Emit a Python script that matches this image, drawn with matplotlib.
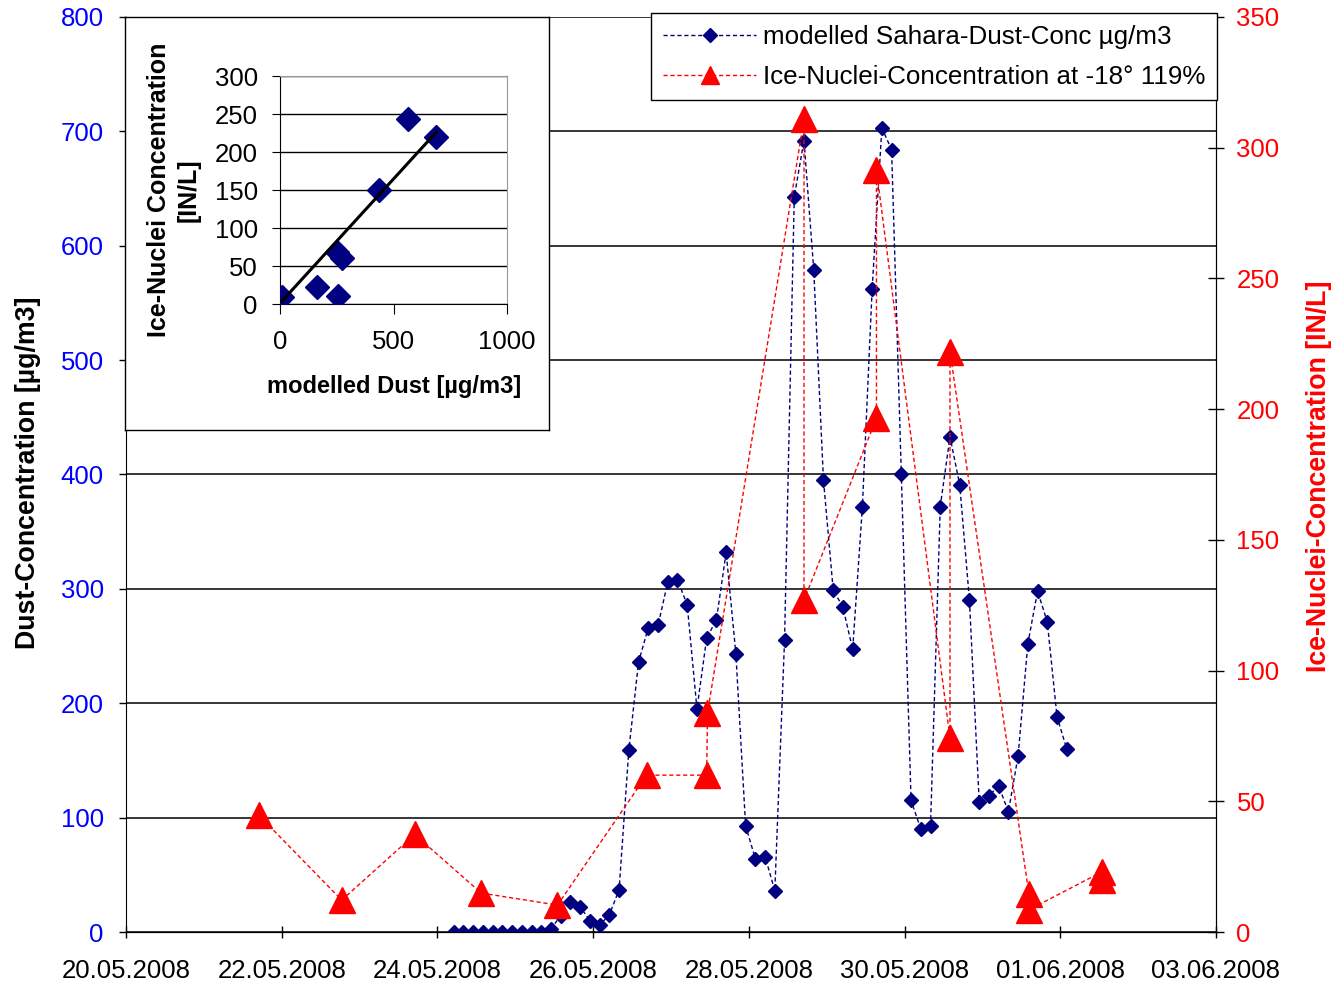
import pandas as pd
import matplotlib
matplotlib.use("Agg")
import matplotlib.pyplot as plt
import matplotlib.dates as mdates
from matplotlib.lines import Line2D

plt.rcParams["font.family"] = ["Liberation Sans", "DejaVu Sans"]

W, H = 1332, 984

# modelled dust, 3-hourly from 24.05.2008 05:00
dust_start = "2008-05-24 05:00"
dust = [0, 0, 0, 0, 0, 0, 0, 0, 0, 0,
        3, 14, 26, 22, 10, 6, 15, 37,
        159, 236, 266, 268, 306, 308, 286, 195, 257, 273,
        332, 243, 93, 64, 66, 36, 255, 643, 692, 579,
        395, 299, 284, 247, 372, 562, 703, 684, 400, 115,
        90, 93, 372, 433, 391, 290, 114, 119, 128, 105,
        154, 252, 298, 271, 188, 160]

# ice nuclei measurements (in drawing order)
ice_times = ["2008-05-21 17:00", "2008-05-22 18:30", "2008-05-23 17:00",
             "2008-05-24 13:30", "2008-05-25 13:00", "2008-05-26 16:30",
             "2008-05-27 11:00", "2008-05-27 11:15", "2008-05-28 17:00",
             "2008-05-28 17:00", "2008-05-29 15:20", "2008-05-29 15:20",
             "2008-05-30 14:00", "2008-05-30 14:00", "2008-05-31 14:20",
             "2008-05-31 14:20", "2008-06-01 12:50", "2008-06-01 12:50"]
ice = [44.6, 12.2, 37.3, 14.9, 10.3, 60, 60, 83.8, 311, 127,
       196.5, 291.5, 74.2, 222, 14.5, 8.5, 23, 20]

# inset scatter
inset_dust = [7, 161, 257, 249, 271, 435, 562, 689]
inset_ice = [9.6, 23, 10, 69, 60, 150, 244, 220]
trend_slope = 0.327
trend_icpt = 1.0

NAVY = "#000080"
RED = "#FF0000"
BLUE = "#0000FF"
FS = 18.5


def box(x0, y0, x1, y1):
    return [x0 / W, 1 - y1 / H, (x1 - x0) / W, (y1 - y0) / H]


fig = plt.figure(figsize=(W / 100, H / 100), dpi=100)
ax = fig.add_axes(box(126, 17, 1216, 932))
ax2 = ax.twinx()

t_dust = pd.date_range(dust_start, periods=len(dust), freq="3h")
t_ice = pd.to_datetime(ice_times)

ax.plot(t_dust, dust, color=NAVY, lw=1, dashes=(3, 2), marker="D", ms=7,
        mfc=NAVY, mec=NAVY)
ax2.plot(t_ice, ice, color=RED, lw=1, dashes=(3, 2), marker="^", ms=19,
         mfc=RED, mec=RED)

ax.set_ylim(0, 800)
ax.set_yticks(range(0, 801, 100))
ax2.set_ylim(0, 350)
ax2.set_yticks(range(0, 351, 50))
ax.set_xlim(pd.Timestamp("2008-05-20"), pd.Timestamp("2008-06-03"))
ax.set_xticks(pd.date_range("2008-05-20", "2008-06-03", freq="2D"))
ax.xaxis.set_major_formatter(mdates.DateFormatter("%d.%m.%Y"))

ax.grid(axis="y", color="black", lw=1.1)
ax.set_axisbelow(True)
ax.spines["top"].set_visible(False)
ax2.spines["top"].set_visible(False)
ax2.spines["left"].set_visible(False)

ax.tick_params(axis="x", direction="inout", length=9, width=1, pad=15,
               labelsize=FS)
ax.tick_params(axis="y", direction="out", length=5, width=1, pad=11,
               labelsize=FS, labelcolor=BLUE)
ax2.tick_params(axis="y", direction="inout", length=11.5, width=1, pad=9,
                labelsize=FS, labelcolor=RED)

fig.text(28 / W, 1 - 473 / H, "Dust-Concentration [µg/m3]", rotation=90,
         ha="center", va="center", fontsize=19.3, fontweight="bold")
fig.text(1319 / W, 1 - 476 / H, "Ice-Nuclei-Concentration [IN/L]", rotation=90,
         ha="center", va="center", fontsize=19.3, fontweight="bold", color=RED)

handles = [
    Line2D([], [], color=NAVY, lw=1, dashes=(3, 2), marker="D", ms=7,
           mfc=NAVY, mec=NAVY),
    Line2D([], [], color=RED, lw=1, dashes=(3, 2), marker="^", ms=13,
           mfc=RED, mec=RED),
]
leg = fig.legend(handles, ["modelled Sahara-Dust-Conc µg/m3",
                           "Ice-Nuclei-Concentration at -18° 119%"],
                 loc="upper right", bbox_to_anchor=(1217 / W, 1 - 13 / H),
                 fontsize=18.7, frameon=True, fancybox=False, framealpha=1,
                 edgecolor="black", borderpad=0.45, handlelength=3.6,
                 handletextpad=0.25, labelspacing=0.62, borderaxespad=0)
leg.get_frame().set_linewidth(1)

# inset
bg = fig.add_axes(box(125, 17, 549, 430))
bg.set_xticks([])
bg.set_yticks([])
bg.set_facecolor("white")
for s in bg.spines.values():
    s.set_color("black")
    s.set_linewidth(1)
bg.set_zorder(5)

ins = fig.add_axes(box(280, 76, 507, 304))
ins.set_zorder(6)
ins.set_facecolor("white")
ins.set_xlim(0, 1000)
ins.set_ylim(0, 300)
ins.set_xticks([0, 500, 1000])
ins.set_yticks(range(0, 301, 50))
ins.grid(axis="y", color="black", lw=1)
ins.set_axisbelow(True)
ins.spines["top"].set_color("#999999")
ins.spines["right"].set_color("#999999")
ins.tick_params(axis="x", direction="out", length=7, pad=12, labelsize=FS)
ins.tick_params(axis="y", direction="out", length=6, pad=10, labelsize=FS)
ins.plot(inset_dust, inset_ice, ls="none", marker="D", ms=12, mfc=NAVY,
         mec=NAVY, zorder=3)
tx = [min(inset_dust), max(inset_dust)]
ins.plot(tx, [trend_slope * v + trend_icpt for v in tx], color="black", lw=2.2,
         zorder=4)

fig.text(174 / W, 1 - 190 / H, "Ice-Nuclei Concentration\n[IN/L]", rotation=90,
         ha="center", va="center", multialignment="center", fontsize=18,
         fontweight="bold", linespacing=1.3, zorder=10)
fig.text(394 / W, 1 - 386 / H, "modelled Dust [µg/m3]", ha="center",
         va="center", fontsize=17, fontweight="bold", zorder=10)

fig.savefig("out.png", dpi=100)
